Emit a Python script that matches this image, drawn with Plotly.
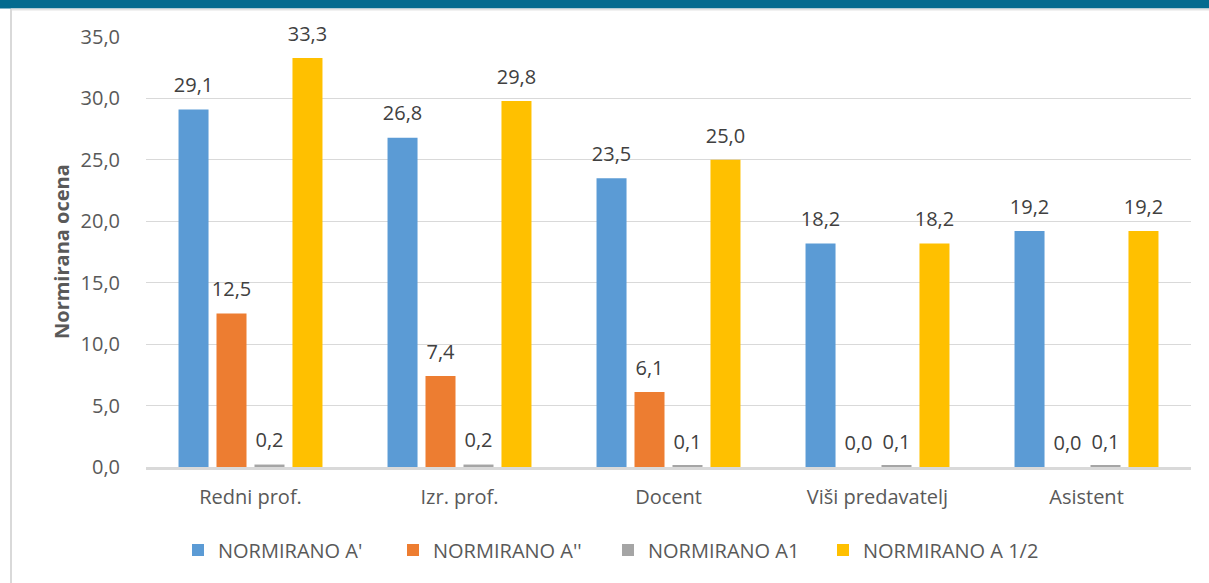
import plotly.graph_objects as go

categories = ["Redni prof.", "Izr. prof.", "Docent", "Viši predavatelj", "Asistent"]
series_names = ["NORMIRANO A'", "NORMIRANO A''", "NORMIRANO A1", "NORMIRANO A 1/2"]
a_prime = [29.1, 26.8, 23.5, 18.2, 19.2]
a_double = [12.5, 7.4, 6.1, 0.0, 0.0]
a_one = [0.2, 0.2, 0.1, 0.1, 0.1]
a_half = [33.3, 29.8, 25.0, 18.2, 19.2]
y_ticks = [0, 5, 10, 15, 20, 25, 30, 35]

colors = ["#5b9bd5", "#ed7d31", "#a5a5a5", "#ffc000"]
font_family = "Open Sans"

W, H = 1209, 583
L, R, T, B = 146, 18, 37, 116
plot_w = W - L - R
plot_h = H - T - B


def px(x):
    return (x - L) / plot_w


def py(y):
    return (H - B - y) / plot_h


fig = go.Figure()

for i, (name, vals) in enumerate(zip(series_names, [a_prime, a_double, a_one, a_half])):
    fig.add_trace(go.Bar(
        x=categories, y=vals, name=name,
        marker=dict(color=colors[i], line=dict(width=0)),
        offsetgroup=str(i), hoverinfo="skip"))

# data labels as text scatters grouped like the bars
for i, vals in enumerate([a_prime, a_double, a_one, a_half]):
    fig.add_trace(go.Scatter(
        x=categories, y=vals, mode="markers+text",
        text=[f"{v:.1f}".replace(".", ",") for v in vals],
        textposition="top center",
        textfont=dict(family=font_family, size=20, color="#404040"),
        marker=dict(size=18, opacity=0),
        offsetgroup=str(i), showlegend=False, hoverinfo="skip",
        cliponaxis=False))

fig.update_layout(
    width=W, height=H,
    margin=dict(l=L, r=R, t=T, b=B),
    paper_bgcolor="white", plot_bgcolor="white",
    barmode="group", bargap=0.273, bargroupgap=0.21,
    scattermode="group", scattergap=0.273,
    separators=", ",
    font=dict(family=font_family, size=20, color="#595959"),
    showlegend=True,
    legend=dict(orientation="h", x=px(178), xanchor="left",
                y=py(550), yanchor="middle",
                entrywidth=170, entrywidthmode="pixels",
                font=dict(family=font_family, size=20, color="#595959"),
                bgcolor="rgba(0,0,0,0)", traceorder="normal"),
)

fig.update_xaxes(
    showgrid=False, showline=True, linecolor="#d9d9d9", linewidth=2.5,
    ticks="", tickfont=dict(size=20, color="#595959"),
    ticklabelstandoff=10, fixedrange=True)

fig.update_yaxes(
    range=[0, 35], tickvals=y_ticks, tickformat=".1f",
    showgrid=True, gridcolor="#d9d9d9", gridwidth=1.3,
    zeroline=False, showline=False, ticks="",
    ticklabelstandoff=25,
    tickfont=dict(size=20, color="#595959"), fixedrange=True)

fig.add_annotation(
    text="<b>Normirana ocena</b>", textangle=-90,
    xref="paper", yref="paper", x=px(61), y=0.5,
    xanchor="center", yanchor="middle", showarrow=False,
    font=dict(family=font_family, size=20, color="#595959"))

# header band and frame
fig.add_shape(type="rect", xref="paper", yref="paper",
              x0=px(0), x1=px(W), y0=py(8.5), y1=py(0),
              fillcolor="#046b8f", line=dict(width=0), layer="above")
fig.add_shape(type="line", xref="paper", yref="paper",
              x0=px(11), x1=px(W), y0=py(9.5), y1=py(9.5),
              line=dict(color="#e3e3e3", width=2))
fig.add_shape(type="line", xref="paper", yref="paper",
              x0=px(11), x1=px(11), y0=py(9), y1=py(H),
              line=dict(color="#d9d9d9", width=2))

fig.write_html("out.html", config={"displayModeBar": False},
               post_script="document.body.style.margin='0';")
